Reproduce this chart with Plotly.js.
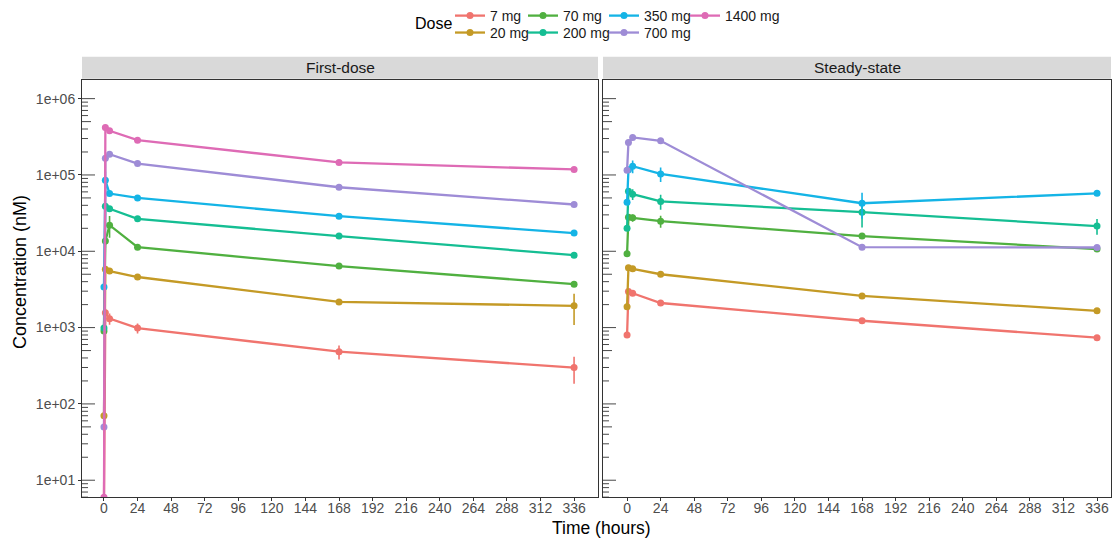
<!DOCTYPE html>
<html>
<head>
<meta charset="utf-8">
<script src="https://cdn.plot.ly/plotly-3.0.1.min.js"></script>
<style>html,body{margin:0;padding:0;background:#fff;}#chart{width:1112px;height:542px;}</style>
</head>
<body>
<div id="chart"></div>
<script>
// ---- data ----
const times = [0, 1, 4, 24, 168, 336];
const doses = ['7 mg', '20 mg', '70 mg', '200 mg', '350 mg', '700 mg', '1400 mg'];
const colors = ['#F0746E', '#C49A26', '#50B040', '#15BE93', '#14B4E6', '#9E8CD6', '#DE6BB5'];
const xTicks = [0, 24, 48, 72, 96, 120, 144, 168, 192, 216, 240, 264, 288, 312, 336];
const yTickVals = [10, 100, 1000, 10000, 100000, 1000000];
const yTickText = ['1e+01', '1e+02', '1e+03', '1e+04', '1e+05', '1e+06'];
const panels = ['First-dose', 'Steady-state'];

// First-dose means
const fd7 = [5, 1570, 1310, 985, 483, 299];
const fd20 = [70, 5800, 5500, 4600, 2170, 1930];
const fd70 = [900, 13600, 22000, 11300, 6400, 3700];
const fd200 = [985, 39000, 36000, 26600, 15800, 8900];
const fd350 = [3400, 85000, 57000, 50000, 28800, 17300];
const fd700 = [50, 166000, 187000, 141000, 69000, 41000];
const fd1400 = [6, 418000, 379000, 286000, 146000, 118000];
// First-dose SD
const fdSd7 = [0, 200, 220, 150, 100, 115];
const fdSd20 = [100, 300, 300, 300, 200, 850];
const fdSd70 = [0, 1500, 7000, 800, 500, 300];
const fdSd200 = [0, 2000, 2000, 1500, 1000, 600];
const fdSd350 = [0, 25000, 4000, 3000, 2000, 1000];
const fdSd700 = [0, 8000, 8000, 8000, 5000, 3000];
const fdSd1400 = [0, 20000, 20000, 15000, 10000, 6000];

// Steady-state means
const ss7 = [800, 2960, 2820, 2100, 1230, 737];
const ss20 = [1880, 6100, 5900, 5000, 2600, 1660];
const ss70 = [9300, 28000, 27400, 24800, 15800, 10700];
const ss200 = [20000, 61000, 56000, 45000, 32500, 21400];
const ss350 = [44000, 117000, 130000, 103000, 42600, 57500];
const ss700 = [115000, 267000, 310000, 280000, 11300, 11200];
// Steady-state SD
const ssSd7 = [0, 100, 100, 100, 80, 40];
const ssSd20 = [0, 200, 200, 200, 150, 100];
const ssSd70 = [0, 1000, 3000, 4500, 1000, 600];
const ssSd200 = [0, 3000, 9000, 10000, 12000, 5000];
const ssSd350 = [0, 8000, 25000, 22000, 16000, 3000];
const ssSd700 = [0, 10000, 10000, 10000, 500, 500];

const fdVals = [fd7, fd20, fd70, fd200, fd350, fd700, fd1400];
const fdSds = [fdSd7, fdSd20, fdSd70, fdSd200, fdSd350, fdSd700, fdSd1400];
const ssVals = [ss7, ss20, ss70, ss200, ss350, ss700, null];
const ssSds = [ssSd7, ssSd20, ssSd70, ssSd200, ssSd350, ssSd700, null];

// ---- layout geometry ----
const W = 1112, H = 542;
const px = v => v / W;
const py = v => 1 - v / H;
const FONT = 'Liberation Sans, Arial, Helvetica, sans-serif';
const yLo = 0.778, yHi = 6.248;

// one legend per legend cell: [x px of legend box, top y px]
const legendCells = [[450, -2], [450, 15], [523, -2], [523, 15], [604, -2], [604, 15], [685, -2]];
const legendIds = ['legend', 'legend2', 'legend3', 'legend4', 'legend5', 'legend6', 'legend7'];

const traces = [];
function addPanel(vals, sds, xa, ya, first) {
  for (let i = 0; i < doses.length; i++) {
    if (!vals[i]) continue;
    const lower = sds[i].map((s, j) => Math.min(s, vals[i][j] * 0.999));
    traces.push({
      type: 'scatter', mode: 'lines+markers',
      x: times, y: vals[i],
      xaxis: xa, yaxis: ya,
      name: doses[i], legendgroup: doses[i],
      legend: legendIds[i],
      showlegend: first,
      line: {color: colors[i], width: 2.3},
      marker: {color: colors[i], size: 7},
      error_y: {type: 'data', symmetric: false, array: sds[i], arrayminus: lower, visible: true,
                color: colors[i], thickness: 1.6, width: 0}
    });
  }
}
addPanel(fdVals, fdSds, 'x', 'y', true);
addPanel(ssVals, ssSds, 'x2', 'y2', false);

// log ticks (annotation_logticks style) inside left edge of each panel
const shapes = [];
[['x', 'y'], ['x2', 'y2']].forEach(([xa, ya]) => {
  for (let k = 0; k <= 6; k++) {
    for (let m = 1; m <= 9; m++) {
      const L = Math.log10(m) + k;
      if (L < yLo || L > yHi) continue;
      const f = (L - yLo) / (yHi - yLo);
      const len = m === 1 ? 13 : (m === 5 ? 9 : 6);
      shapes.push({type: 'line', xref: xa + ' domain', yref: ya + ' domain',
        xsizemode: 'pixel', xanchor: 0, x0: 0, x1: len, y0: f, y1: f,
        line: {color: '#333333', width: 0.9}, layer: 'above'});
    }
  }
});
// strips
const stripX = [[82, 598], [603, 1111]];
stripX.forEach(([a, b]) => {
  shapes.push({type: 'rect', xref: 'paper', yref: 'paper', x0: px(a), x1: px(b), y0: py(77), y1: py(55),
    fillcolor: '#D9D9D9', line: {width: 0}, layer: 'below'});
});

const annotations = [
  {text: panels[0], x: px(340), y: py(66), xref: 'paper', yref: 'paper', showarrow: false,
   font: {family: FONT, size: 15.5, color: '#1A1A1A'}, xanchor: 'center', yanchor: 'middle'},
  {text: panels[1], x: px(857), y: py(66), xref: 'paper', yref: 'paper', showarrow: false,
   font: {family: FONT, size: 15.5, color: '#1A1A1A'}, xanchor: 'center', yanchor: 'middle'},
  {text: 'Time (hours)', x: px(601), y: py(528), xref: 'paper', yref: 'paper', showarrow: false,
   font: {family: FONT, size: 17.5, color: '#000'}, xanchor: 'center', yanchor: 'middle'},
  {text: 'Concentration (nM)', x: px(20), y: py(271), xref: 'paper', yref: 'paper', showarrow: false,
   textangle: -90, font: {family: FONT, size: 18, color: '#000'}, xanchor: 'center', yanchor: 'middle'},
  {text: 'Dose', x: px(454), y: py(22), xref: 'paper', yref: 'paper', showarrow: false,
   font: {family: FONT, size: 16, color: '#000'}, xanchor: 'right', yanchor: 'middle'}
];

const axCommon = {
  showgrid: false, zeroline: false, showline: true, mirror: true,
  linecolor: '#333333', linewidth: 1,
  tickfont: {family: FONT, size: 14, color: '#4D4D4D'},
  ticks: 'outside', tickcolor: '#333333'
};

const layout = {
  width: W, height: H,
  margin: {l: 0, r: 0, t: 0, b: 0},
  paper_bgcolor: '#FFFFFF', plot_bgcolor: '#FFFFFF',
  font: {family: FONT},
  showlegend: true,
  xaxis: Object.assign({}, axCommon, {domain: [px(82), px(598)], range: [-15.7, 353.1],
    tickmode: 'array', tickvals: xTicks, ticklen: 3, ticklabelstandoff: -5, anchor: 'y'}),
  xaxis2: Object.assign({}, axCommon, {domain: [px(603), px(1111)], range: [-17.2, 346],
    tickmode: 'array', tickvals: xTicks, ticklen: 3, ticklabelstandoff: -5, anchor: 'y2'}),
  yaxis: Object.assign({}, axCommon, {type: 'log', domain: [py(497), py(78)], range: [yLo, yHi],
    tickmode: 'array', tickvals: yTickVals, ticktext: yTickText, ticklen: 3, anchor: 'x'}),
  yaxis2: Object.assign({}, axCommon, {type: 'log', domain: [py(497), py(78)], range: [yLo, yHi],
    tickmode: 'array', tickvals: yTickVals, ticktext: yTickText, ticks: '', showticklabels: false, anchor: 'x2'}),
  shapes: shapes,
  annotations: annotations
};
legendIds.forEach((id, i) => {
  const [x, top] = legendCells[i];
  layout[id] = {x: px(x), y: py(top), xanchor: 'left', yanchor: 'top', orientation: 'v',
    tracegroupgap: 0, bgcolor: 'rgba(0,0,0,0)', borderwidth: 0,
    font: {family: FONT, size: 14, color: '#1A1A1A'}, itemclick: false, itemdoubleclick: false};
});

Plotly.newPlot('chart', traces, layout, {displayModeBar: false, staticPlot: true});
</script>
</body>
</html>
